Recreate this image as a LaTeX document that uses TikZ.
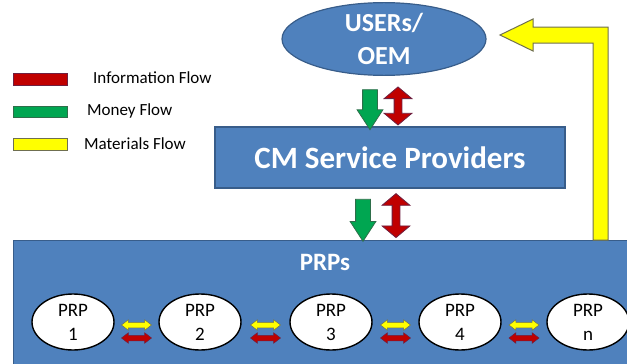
\documentclass[tikz,border=0pt]{standalone}
\usepackage{fontspec}
\setmainfont{Carlito}
\usetikzlibrary{shapes.geometric,shapes.arrows,calc}

\definecolor{boxblue}{HTML}{4F81BD}
\definecolor{boxline}{HTML}{385D8A}
\definecolor{infored}{HTML}{C00000}
\definecolor{inforedline}{HTML}{6E2040}
\definecolor{moneygreen}{HTML}{00A651}
\definecolor{moneyline}{HTML}{2E6E4A}
\definecolor{matyellow}{HTML}{FFFF00}
\definecolor{matline}{HTML}{6F6F50}

\tikzset{
  bluebox/.style={rectangle, fill=boxblue, draw=boxline, line width=1.2pt, text=white, inner sep=0pt},
  prpnode/.style={ellipse, fill=white, draw=black, line width=1.4pt, minimum width=82pt, minimum height=56pt,
    inner sep=0pt, align=center, font=\fontsize{19}{24}\selectfont},
  legbar/.style={rectangle, minimum width=54pt, minimum height=12pt, inner sep=0pt, line width=1pt},
  legtext/.style={anchor=west, inner sep=0pt, font=\fontsize{17}{20}\selectfont},
  moneyarrow/.style={single arrow, fill=moneygreen, draw=moneyline, line width=0.8pt, inner xsep=0pt, inner ysep=7pt,
    single arrow head extend=5.5pt, single arrow tip angle=66, rotate=-90},
  infoarrow/.style={double arrow, fill=infored, draw=inforedline, line width=0.8pt, inner xsep=0pt, inner ysep=3.5pt,
    double arrow head extend=10pt, double arrow tip angle=100, rotate=90},
  pairarrow/.style={double arrow, line width=0.5pt, inner xsep=0pt, inner ysep=2.5pt, minimum height=30pt,
    double arrow head extend=2.5pt, double arrow tip angle=75}
}

\begin{document}
\begin{tikzpicture}[x=1pt, y=-1pt]
  \useasboundingbox (0,0) rectangle (627,364);

  % legend
  \node[legbar, fill=infored, draw=inforedline] (barinfo) at (40,79) {};
  \node[legtext] (txtinfo) at (93,78) {Information Flow};
  \node[legbar, fill=moneygreen, draw=moneyline, minimum height=11pt] (barmoney) at (40,111.5) {};
  \node[legtext] (txtmoney) at (87,111) {Money Flow};
  \node[legbar, fill=matyellow, draw=matline] (barmat) at (40,144) {};
  \node[legtext] (txtmat) at (84,144) {Materials Flow};

  % main boxes
  \node[bluebox, ellipse, minimum width=204pt, minimum height=66pt, align=center,
    font=\fontsize{26}{33}\selectfont\bfseries] (users) at (384,39) {USERs/\\OEM};
  \node[bluebox, minimum width=350pt, minimum height=61pt,
    font=\fontsize{31}{36}\selectfont\bfseries] (cm) at (390,157.5) {CM Service Providers};
  \node[bluebox, anchor=north west, minimum width=618pt, minimum height=126pt] (prps) at (13,240) {};
  \node[text=white, inner sep=0pt, font=\fontsize{25}{30}\selectfont\bfseries] (prpslabel) at (325,262) {PRPs};

  % flows between the levels
  \node[moneyarrow, minimum height=40pt] (money1) at ($(users.south)+(-14,28)$) {};
  \node[infoarrow, minimum height=38pt] (info1) at ($(users.south)+(14,30)$) {};
  \node[moneyarrow, minimum height=42pt] (money2) at ($(cm.south)+(-27,26)$) {};
  \node[infoarrow, minimum height=44pt] (info2) at ($(cm.south)+(6,27)$) {};

  % materials back to the users
  \fill[draw=matline, fill=matyellow, line width=1pt] (593,240) -- (593,43) -- (533,43) -- (533,51) -- (500,35)
    -- (533,19) -- (533,27) -- (608,27) -- (608,240) -- cycle;

  % the PRPs
  \foreach \x/\lbl [count=\i] in {73/1,200/2,331/3,460/4,588/n}
    \node[prpnode] (prp\i) at (\x,322) {PRP\\\lbl};
  \foreach \i/\j in {1/2,2/3,3/4,4/5} {
    \node[pairarrow, fill=matyellow, draw=matline] (mat\i) at ($(prp\i.east)!0.5!(prp\j.west)+(0,3)$) {};
    \node[pairarrow, fill=infored, draw=inforedline] (inf\i) at ($(prp\i.east)!0.5!(prp\j.west)+(0,16)$) {};
  }
\end{tikzpicture}
\end{document}
